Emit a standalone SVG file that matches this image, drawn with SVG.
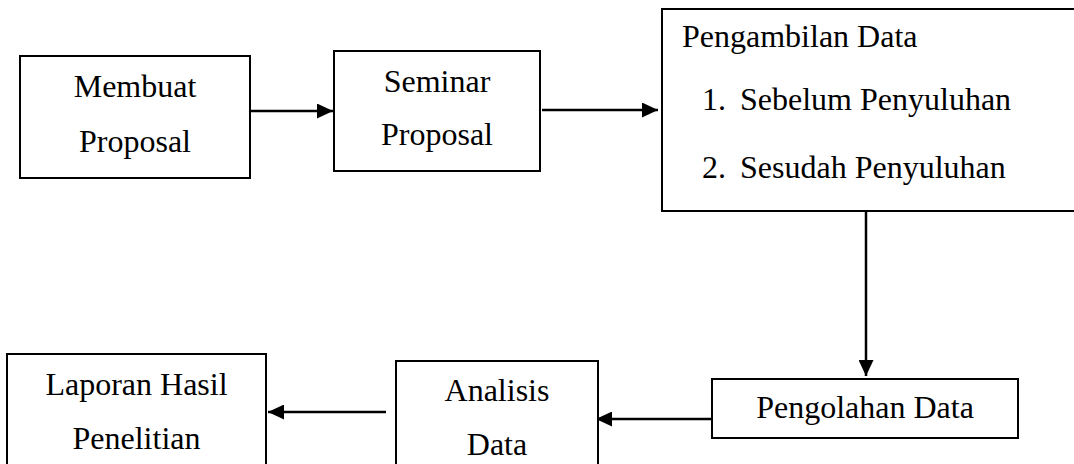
<svg xmlns="http://www.w3.org/2000/svg" width="1074" height="464" viewBox="0 0 1074 464">
<style>
.box{fill:#fff;stroke:#000;stroke-width:2}
.t{font-family:"Liberation Serif","Times New Roman",serif;font-size:32px;fill:#000}
.c{text-anchor:middle}
.arr{stroke:#000;stroke-width:2.5;fill:none;marker-end:url(#ah)}
</style>
<defs>
<marker id="ah" markerUnits="userSpaceOnUse" markerWidth="16" markerHeight="15" refX="16" refY="7.5" orient="auto">
<path d="M0,0 L16,7.5 L0,15 z" fill="#000"/>
</marker>
</defs>
<rect width="1074" height="464" fill="#fff"/>
<g id="connectors">
<line class="arr" x1="251" y1="111" x2="333" y2="111"/>
<line class="arr" x1="542" y1="110" x2="658" y2="110"/>
<line class="arr" x1="866" y1="211" x2="866" y2="376"/>
<line class="arr" x1="712" y1="419" x2="596" y2="419"/>
<line class="arr" x1="386" y1="412" x2="268" y2="412"/>
</g>
<g id="membuat">
<rect class="box" x="20" y="56" width="230" height="122"/>
<text class="t c" x="135" y="97">Membuat</text>
<text class="t c" x="135" y="152">Proposal</text>
</g>
<g id="seminar">
<rect class="box" x="334" y="51" width="206" height="120"/>
<text class="t c" x="437" y="92">Seminar</text>
<text class="t c" x="437" y="145">Proposal</text>
</g>
<g id="pengambilan">
<rect class="box" x="662" y="9" width="416" height="202"/>
<text class="t" x="682" y="47">Pengambilan Data</text>
<text class="t" x="702" y="110">1.</text>
<text class="t" x="740" y="110">Sebelum Penyuluhan</text>
<text class="t" x="702" y="178">2.</text>
<text class="t" x="740" y="178">Sesudah Penyuluhan</text>
</g>
<g id="pengolahan">
<rect class="box" x="712" y="379" width="306" height="59"/>
<text class="t c" x="865" y="418">Pengolahan Data</text>
</g>
<g id="analisis">
<rect class="box" x="396" y="361" width="202" height="110"/>
<text class="t c" x="497" y="401">Analisis</text>
<text class="t c" x="497" y="455">Data</text>
</g>
<g id="laporan">
<rect class="box" x="7" y="354" width="259" height="120"/>
<text class="t c" x="136.5" y="395">Laporan Hasil</text>
<text class="t c" x="136.5" y="449">Penelitian</text>
</g>
</svg>
